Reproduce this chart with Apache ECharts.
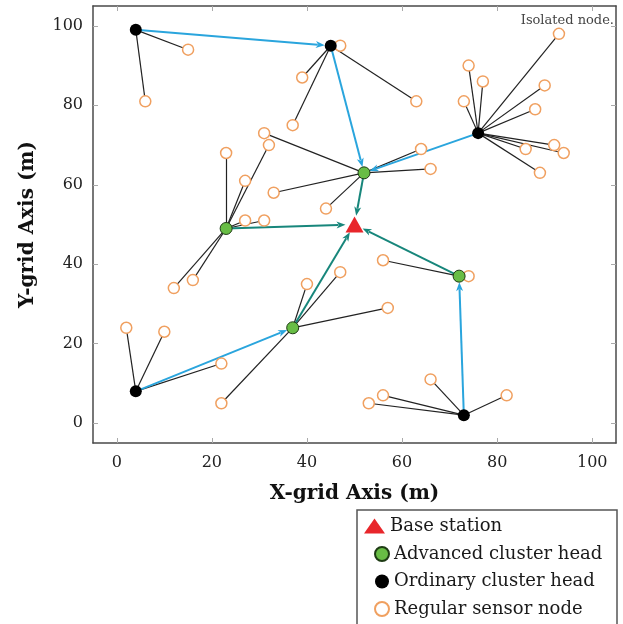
<!DOCTYPE html>
<html>
<head>
<meta charset="utf-8">
<script src="https://cdn.jsdelivr.net/npm/echarts@6/dist/echarts.min.js"></script>
<style>
  html, body { margin: 0; padding: 0; background: #fff; }
  #chart { width: 623px; height: 624px; }
</style>
</head>
<body>
<div id="chart"></div>
<script>
// tick positions on both axes
var xTicks = [0, 20, 40, 60, 80, 100];
var yTicks = [0, 20, 40, 60, 80, 100];

var baseStation = [[50, 50]];
var advancedHeads = [[52, 63], [23, 49], [37, 24], [72, 37]];
var ordinaryHeads = [[4, 99], [45, 95], [76, 73], [4, 8], [73, 2]];

// members of each cluster, same order as ordinaryHeads then advancedHeads
var clusterMembers = [
    [[15, 94], [6, 81]],
    [[47, 95], [39, 87], [37, 75], [63, 81]],
    [[74, 90], [77, 86], [73, 81], [93, 98], [90, 85], [88, 79], [92, 70], [94, 68], [86, 69], [89, 63]],
    [[2, 24], [10, 23], [22, 15]],
    [[66, 11], [56, 7], [53, 5], [82, 7]],
    [[64, 69], [66, 64], [44, 54], [31, 73], [33, 58]],
    [[23, 68], [27, 61], [32, 70], [27, 51], [31, 51], [12, 34], [16, 36]],
    [[40, 35], [47, 38], [57, 29], [22, 5]],
    [[56, 41], [74, 37]]
];

// inter-cluster hops: [from, to]
var ordinaryHops = [
    [[4, 99], [45, 95]],
    [[45, 95], [52, 63]],
    [[76, 73], [52, 63]],
    [[4, 8], [37, 24]],
    [[73, 2], [72, 37]]
];
var advancedHops = [
    [[52, 63], [50, 50]],
    [[23, 49], [50, 50]],
    [[37, 24], [50, 50]],
    [[72, 37], [50, 50]]
];

var FONT = 'DejaVu Serif';

var allHeads = ordinaryHeads.concat(advancedHeads);
var sensorNodes = [];
var memberLinks = [];
clusterMembers.forEach(function (list, i) {
    list.forEach(function (p) {
        sensorNodes.push(p);
        memberLinks.push({ coords: [p, allHeads[i]] });
    });
});

function arrowSeries(name, hops, color) {
    return {
        type: 'custom',
        name: name,
        silent: true,
        z: 3,
        data: hops.map(function (h) { return [h[0][0], h[0][1], h[1][0], h[1][1]]; }),
        encode: { x: [0, 2], y: [1, 3] },
        renderItem: function (params, api) {
            var a = api.coord([api.value(0), api.value(1)]);
            var b = api.coord([api.value(2), api.value(3)]);
            var toBase = api.value(2) === baseStation[0][0] && api.value(3) === baseStation[0][1];
            var gap = toBase ? 9 : 6;
            var dx = b[0] - a[0], dy = b[1] - a[1];
            var len = Math.sqrt(dx * dx + dy * dy);
            var ux = dx / len, uy = dy / len;
            var tip = [b[0] - ux * gap, b[1] - uy * gap];
            var hl = 9, hw = 3.5;
            var back = [tip[0] - ux * hl, tip[1] - uy * hl];
            return {
                type: 'group',
                children: [{
                    type: 'line',
                    shape: { x1: a[0], y1: a[1], x2: back[0] + ux * 2, y2: back[1] + uy * 2 },
                    style: { stroke: color, lineWidth: 2 }
                }, {
                    type: 'polygon',
                    shape: { points: [tip, [back[0] - uy * hw, back[1] + ux * hw], [back[0] + ux * 2.5, back[1] + uy * 2.5], [back[0] + uy * hw, back[1] - ux * hw]] },
                    style: { fill: color }
                }]
            };
        }
    };
}

function frameAxis(pos, ticks, isX, main) {
    var ax = {
        type: 'value',
        position: pos,
        min: -5,
        max: 105,
        axisLine: { show: true, onZero: false, lineStyle: { color: '#4a4a4a', width: 1.5 } },
        axisTick: { show: true, inside: true, length: 5, customValues: ticks, lineStyle: { color: '#aaa', width: 1 } },
        axisLabel: { show: main, customValues: ticks, color: '#222', fontFamily: FONT, fontSize: 16, margin: isX ? 12 : 10 },
        splitLine: { show: false }
    };
    if (main) {
        ax.name = isX ? 'X-grid Axis (m)' : 'Y-grid Axis (m)';
        ax.nameLocation = 'middle';
        ax.nameGap = isX ? 41 : 55;
        ax.nameTextStyle = { fontFamily: FONT, fontWeight: 'bold', fontSize: 20, color: '#111' };
    }
    return ax;
}

var legendText = { fontFamily: FONT, fontSize: 18, color: '#1a1a1a', lineHeight: 18 };

var chart = echarts.init(document.getElementById('chart'));

var option = {
    animation: false,
    backgroundColor: '#fff',
    grid: { left: 93, right: 7, top: 6, bottom: 181, containLabel: false },
    xAxis: [frameAxis('bottom', xTicks, true, true), frameAxis('top', xTicks, true, false)],
    yAxis: [frameAxis('left', yTicks, false, true), frameAxis('right', yTicks, false, false)],
    legend: [{
        orient: 'vertical',
        left: 364,
        top: 517,
        padding: 0,
        itemWidth: 21,
        itemHeight: 15,
        textStyle: legendText,
        data: [{ name: 'Base station', icon: 'triangle' }]
    }, {
        orient: 'vertical',
        left: 374,
        top: 545,
        padding: 0,
        itemGap: 9.5,
        itemWidth: 14,
        itemHeight: 14,
        textStyle: legendText,
        data: [
            { name: 'Advanced cluster head', icon: 'circle' },
            { name: 'Ordinary cluster head', icon: 'circle' },
            { name: 'Regular sensor node', icon: 'circle' }
        ]
    }],
    graphic: [{
        type: 'rect',
        shape: { x: 357, y: 510, width: 260, height: 120 },
        style: { fill: 'none', stroke: '#555', lineWidth: 1.5 },
        silent: true
    }, {
        type: 'text',
        right: 9,
        top: 14,
        style: { text: 'Isolated node.', fontFamily: FONT, fontSize: 13, fill: '#444' }
    }],
    series: [
        {
            type: 'lines',
            name: 'links',
            coordinateSystem: 'cartesian2d',
            silent: true,
            z: 2,
            lineStyle: { color: '#222', width: 1.2, opacity: 1 },
            data: memberLinks
        },
        arrowSeries('ordinary hops', ordinaryHops, '#2aa5dd'),
        arrowSeries('advanced hops', advancedHops, '#17867b'),
        {
            type: 'scatter',
            name: 'Regular sensor node',
            z: 4,
            symbol: 'circle',
            symbolSize: 11,
            itemStyle: { color: '#fff', borderColor: '#f0a060', borderWidth: 1.5, opacity: 1 },
            data: sensorNodes
        },
        {
            type: 'scatter',
            name: 'Ordinary cluster head',
            z: 5,
            symbol: 'circle',
            symbolSize: 12,
            itemStyle: { color: '#000', opacity: 1 },
            data: ordinaryHeads
        },
        {
            type: 'scatter',
            name: 'Advanced cluster head',
            z: 5,
            symbol: 'circle',
            symbolSize: 12,
            itemStyle: { color: '#68bd45', borderColor: '#1e3b14', borderWidth: 1, opacity: 1 },
            data: advancedHeads
        },
        {
            type: 'scatter',
            name: 'Base station',
            z: 6,
            symbol: 'triangle',
            symbolSize: [18, 16],
            itemStyle: { color: '#e8262b', opacity: 1 },
            data: baseStation
        }
    ]
};

chart.setOption(option);
</script>
</body>
</html>
